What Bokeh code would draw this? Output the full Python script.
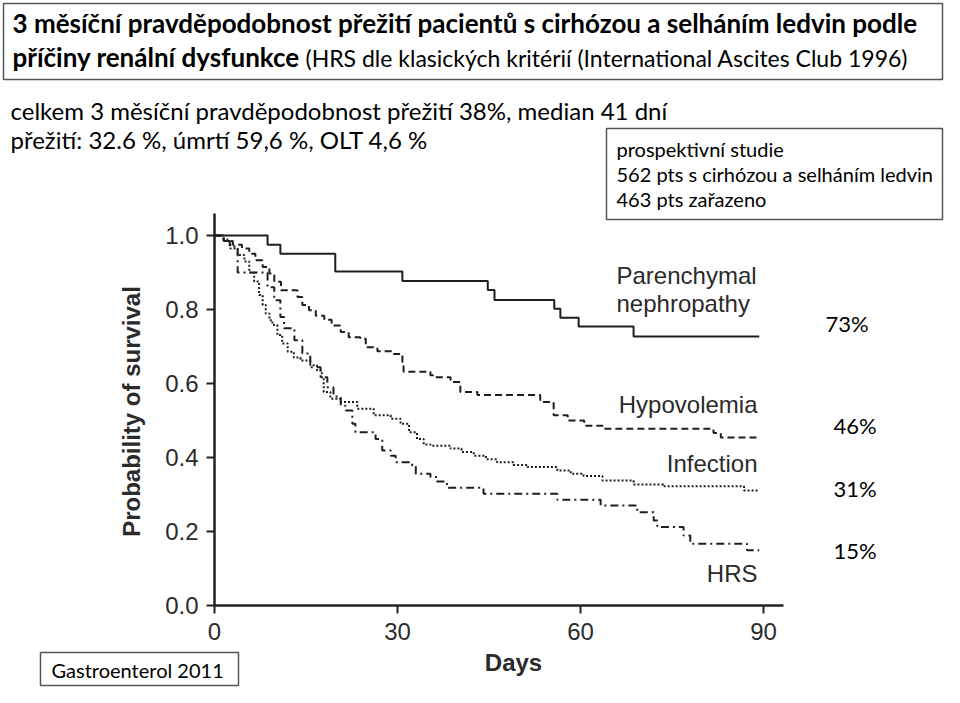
import math
from bokeh.plotting import figure
from bokeh.models import Range1d, LinearAxis, FixedTicker, NumeralTickFormatter
from bokeh.embed import file_html
from bokeh.resources import INLINE
from bokeh.core.properties import value

# ---------------- data ----------------
parenchymal_days = [0, 8.7, 10.8, 19.8, 30.8, 44.8, 45.9, 55.7, 56.7, 59.7, 68.7, 89.3]
parenchymal_surv = [1.0, 0.975, 0.951, 0.903, 0.877, 0.853, 0.826, 0.802, 0.778, 0.754, 0.727, 0.727]

hypovolemia_days = [0, 1.5, 3.0, 4.5, 5.7, 6.7, 7.9, 9.0, 9.8, 10.9, 13.6, 14.4, 15.5, 16.6, 18.0,
                    19.2, 20.7, 22.0, 23.9, 24.8, 26.7, 29.4, 30.8, 31.0, 35.4, 36.2, 38.7, 40.3,
                    43.1, 53.4, 55.6, 57.9, 60.6, 63.8, 81.8, 83.0, 89.3]
hypovolemia_surv = [1.0, 0.985, 0.975, 0.965, 0.951, 0.933, 0.915, 0.897, 0.875, 0.852, 0.834, 0.812,
                    0.798, 0.783, 0.772, 0.757, 0.739, 0.725, 0.721, 0.698, 0.687, 0.680, 0.658, 0.632,
                    0.622, 0.617, 0.604, 0.577, 0.569, 0.550, 0.514, 0.500, 0.486, 0.478, 0.466, 0.454,
                    0.454]

infection_days = [0, 1.5, 2.1, 2.6, 3.8, 4.9, 5.7, 6.5, 7.3, 7.9, 8.4, 9.0, 9.5, 10.3, 11.1, 12.0,
                  13.0, 14.1, 15.7, 16.8, 17.6, 17.9, 19.0, 20.7, 23.4, 26.1, 28.9, 30.5, 31.9, 33.2,
                  34.3, 35.4, 38.7, 40.5, 42.5, 44.5, 46.3, 49.0, 51.3, 56.2, 58.4, 60.5, 63.6, 68.7,
                  73.6, 86.8, 89.3]
infection_surv = [1.0, 0.99, 0.984, 0.965, 0.947, 0.930, 0.900, 0.876, 0.839, 0.812, 0.789, 0.771,
                  0.758, 0.731, 0.708, 0.686, 0.670, 0.662, 0.649, 0.635, 0.613, 0.577, 0.559, 0.550,
                  0.532, 0.514, 0.505, 0.491, 0.468, 0.450, 0.435, 0.432, 0.424, 0.415, 0.405, 0.395,
                  0.387, 0.380, 0.374, 0.365, 0.356, 0.350, 0.338, 0.327, 0.322, 0.311, 0.311]

hrs_days = [0, 1.5, 2.5, 3.8, 8.7, 9.8, 10.8, 11.4, 13.1, 14.4, 15.7, 17.4, 18.5, 19.5, 20.7, 21.5,
            22.6, 23.1, 26.4, 27.5, 28.9, 29.7, 32.4, 33.0, 35.4, 36.5, 38.1, 44.1, 56.2, 63.3, 69.3,
            72.0, 72.6, 76.9, 78.0, 87.3, 89.3]
hrs_surv = [1.0, 0.985, 0.970, 0.900, 0.860, 0.825, 0.780, 0.749, 0.717, 0.681, 0.644, 0.617, 0.590,
            0.565, 0.540, 0.527, 0.491, 0.468, 0.450, 0.419, 0.405, 0.387, 0.378, 0.356, 0.347, 0.335,
            0.318, 0.302, 0.286, 0.270, 0.252, 0.230, 0.212, 0.189, 0.167, 0.149, 0.149]

x_ticks = [0, 30, 60, 90]
y_ticks = [0.0, 0.2, 0.4, 0.6, 0.8, 1.0]

curve_names = ["Hypovolemia", "Infection", "HRS"]
parenchymal_name = ["Parenchymal", "nephropathy"]
percent_labels = ["73%", "46%", "31%", "15%"]

title_bold_1 = "3 měsíční pravděpodobnost přežití pacientů s cirhózou a selháním ledvin podle"
title_bold_2 = "příčiny renální dysfunkce"
title_normal_2 = "(HRS dle klasických kritérií (International Ascites Club 1996)"
subtitle_lines = ["celkem 3 měsíční pravděpodobnost přežití 38%, median 41 dní",
                  "přežití: 32.6 %, úmrtí 59,6 %, OLT 4,6 %"]
box_lines = ["prospektivní studie", "562 pts s cirhózou a selháním ledvin", "463 pts zařazeno"]
source_text = "Gastroenterol 2011"

# ---------------- layout: picture pixels -> data coordinates ----------------
W, H = 944, 687
X0_PX, DAY_PX = 214.0, 6.1
Y0_PX, UNIT_PX = 605.0, 370.0


def dx(px):
    return (px - X0_PX) / DAY_PX


def dy(py):
    return (Y0_PX - py) / UNIT_PX


def mid(baseline_px, size_px):
    """data y of the text middle for a text whose baseline sits at baseline_px"""
    return dy(baseline_px - 0.35 * size_px)


p = figure(width=W, height=H, output_backend="svg", toolbar_location=None,
           x_range=Range1d(dx(0), dx(W)), y_range=Range1d(dy(H), dy(0)),
           x_axis_location=None, y_axis_location=None, min_border=0,
           outline_line_color=None, background_fill_color="white", border_fill_color="white")
p.grid.visible = False

AX_COL = "#222222"
TXT_COL = "#2b2b2b"

xaxis = LinearAxis(fixed_location=0, bounds=(0, dx(783)), ticker=FixedTicker(ticks=x_ticks))
yaxis = LinearAxis(fixed_location=0, bounds=(0, dy(213)), ticker=FixedTicker(ticks=y_ticks),
                   formatter=NumeralTickFormatter(format="0.0"))
for ax in (xaxis, yaxis):
    ax.axis_line_color = AX_COL
    ax.axis_line_width = 2.5
    ax.major_tick_line_color = AX_COL
    ax.major_tick_line_width = 2
    ax.major_tick_out = 8
    ax.major_tick_in = 0
    ax.minor_tick_line_color = None
    ax.major_label_text_font = "Liberation Sans"
    ax.major_label_text_font_size = "24px"
    ax.major_label_text_color = TXT_COL
xaxis.major_label_standoff = 9
yaxis.major_label_standoff = 8
p.add_layout(xaxis, "below")
p.add_layout(yaxis, "left")

# ---------------- survival curves ----------------
LC = "#1e1e1e"
p.step(parenchymal_days, parenchymal_surv, mode="after", line_color=LC, line_width=2)
p.step(hypovolemia_days, hypovolemia_surv, mode="after", line_color=LC, line_width=2,
       line_dash="7 4")
p.step(infection_days, infection_surv, mode="after", line_color=LC, line_width=2,
       line_dash="2 2")
p.step(hrs_days, hrs_surv, mode="after", line_color=LC, line_width=2,
       line_dash="8 4 2 4")

# ---------------- curve labels ----------------
arial = value("Liberation Sans")
p.text(x=[dx(616)] * 2, y=[mid(283, 24), mid(311, 24)], text=parenchymal_name, text_font=arial,
       text_font_size="24px", text_color=TXT_COL, text_align="left", text_baseline="middle")
p.text(x=[dx(757)] * 3, y=[mid(412, 24), mid(471, 24), mid(581, 24)], text=curve_names,
       text_font=arial, text_font_size="24px", text_color=TXT_COL, text_align="right",
       text_baseline="middle")

# axis titles
p.text(x=[dx(131)], y=[dy(411)], text=["Probability of survival"], text_font=arial,
       text_font_style="bold", text_font_size="24px", text_color=TXT_COL, angle=math.pi / 2,
       text_align="center", text_baseline="middle")
p.text(x=[dx(513)], y=[dy(662)], text=["Days"], text_font=arial, text_font_style="bold",
       text_font_size="24px", text_color=TXT_COL, text_align="center", text_baseline="middle")

# ---------------- percent labels ----------------
lato = value("Lato")
p.text(x=[dx(825), dx(833), dx(833), dx(833)],
       y=[mid(331, 22), mid(433, 22), mid(496, 22), mid(558, 22)],
       text=percent_labels, text_font=lato, text_font_size="22px", text_color="black",
       text_align="left", text_baseline="middle")

# ---------------- boxes ----------------
BOX_COL = "#555555"
p.quad(left=[dx(3), dx(606), dx(40)], right=[dx(942), dx(942), dx(238)],
       top=[dy(3), dy(128), dy(652)], bottom=[dy(79), dy(219), dy(685)],
       fill_color=None, line_color=BOX_COL, line_width=1.5)

# title
p.text(x=[dx(12), dx(12)], y=[mid(32, 26), mid(66, 26)], text=[title_bold_1, title_bold_2],
       text_font=lato, text_font_style="bold", text_font_size="26px", text_color="black",
       text_align="left", text_baseline="middle")
p.text(x=[dx(305)], y=[mid(66, 23)], text=[title_normal_2], text_font=lato, text_font_size="23px",
       text_color="black", text_align="left", text_baseline="middle")

# subtitle
p.text(x=[dx(10), dx(10)], y=[mid(118, 24), mid(147, 24)], text=subtitle_lines, text_font=lato,
       text_font_size="24px", text_color="black", text_align="left", text_baseline="middle")

# right box
p.text(x=[dx(616)] * 3, y=[mid(155, 20), mid(180, 20), mid(205, 20)], text=box_lines,
       text_font=lato, text_font_size="20px", text_color="black", text_align="left",
       text_baseline="middle")

# source
p.text(x=[dx(51)], y=[dy(669)], text=[source_text], text_font=lato, text_font_size="20px",
       text_color="black", text_align="left", text_baseline="middle")

open("out.html", "w").write(file_html(p, INLINE))
